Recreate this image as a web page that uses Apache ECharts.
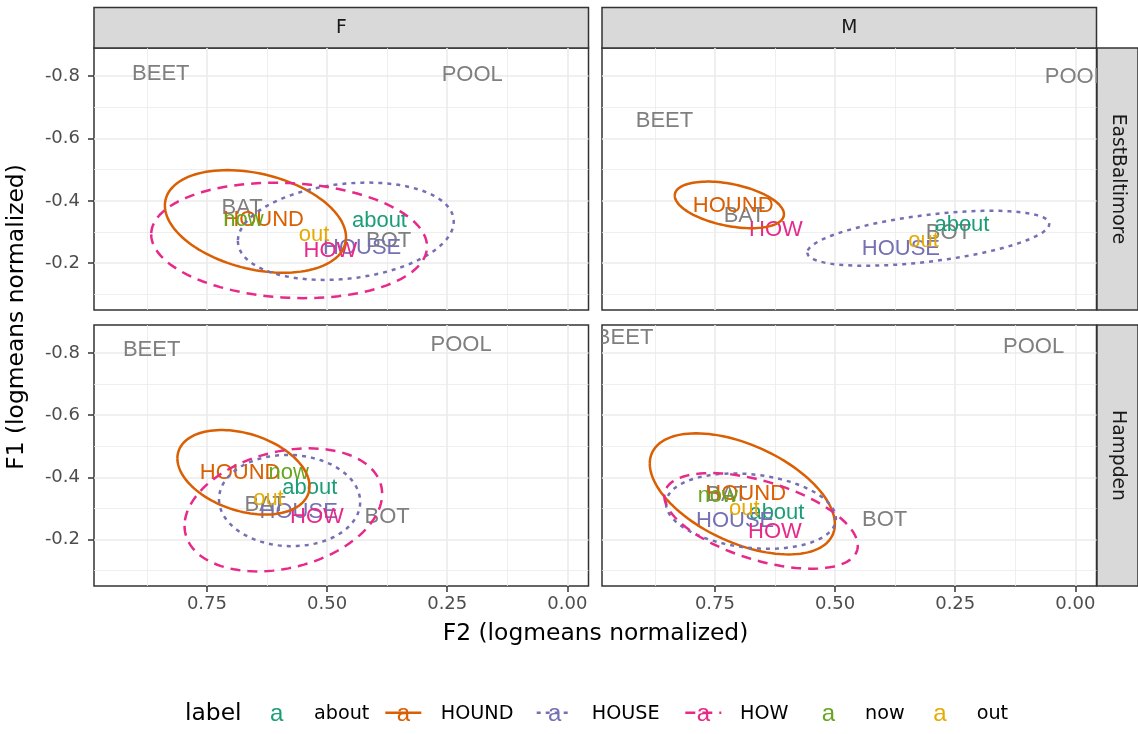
<!DOCTYPE html>
<html>
<head>
<meta charset="utf-8">
<script src="https://cdn.jsdelivr.net/npm/echarts@6/dist/echarts.min.js"></script>
<style>
  html, body { margin: 0; padding: 0; background: #fff; }
  #chart { width: 1138px; height: 734px; }
</style>
</head>
<body>
<div id="chart"></div>
<script>
// facets
var sexes = ['F', 'M'];
var dialects = ['EastBaltimore', 'Hampden'];

// legend labels and their colours / line types
var labels = ['about', 'HOUND', 'HOUSE', 'HOW', 'now', 'out'];
var labelColors = ['#1B9E77', '#D95F02', '#7570B3', '#E7298A', '#66A61E', '#E6AB02'];
var labelLines = [null, 'solid', 'dotted', 'dashed', null, null];
var vowelColor = '#7F7F7F';

// axis ticks
var xMajor = [0, 0.25, 0.5, 0.75];
var xMinor = [0.125, 0.375, 0.625, 0.875];
var yMajor = [-0.8, -0.6, -0.4, -0.2];
var yMinor = [-0.7, -0.5, -0.3, -0.1];
var xMin = -0.044, xMax = 0.985;
var yMin = -0.89, yMax = -0.05;

// word positions [word, F2, F1] per panel
var wordsFEast = [
    ['BEET', 0.846, -0.807], ['POOL', 0.198, -0.803], ['BAT', 0.677, -0.377], ['BOT', 0.372, -0.272],
    ['about', 0.391, -0.336], ['HOUND', 0.632, -0.339], ['HOUSE', 0.427, -0.248],
    ['HOW', 0.493, -0.240], ['now', 0.674, -0.339], ['out', 0.527, -0.291]
];
var wordsMEast = [
    ['BEET', 0.855, -0.657], ['POOL', 0.0, -0.798], ['BAT', 0.689, -0.352], ['BOT', 0.264, -0.298],
    ['about', 0.236, -0.323], ['HOUND', 0.712, -0.384], ['HOUSE', 0.363, -0.245],
    ['HOW', 0.623, -0.307], ['out', 0.316, -0.272]
];
var wordsFHamp = [
    ['BEET', 0.865, -0.809], ['POOL', 0.221, -0.825], ['BAT', 0.629, -0.312], ['BOT', 0.375, -0.273],
    ['about', 0.536, -0.367], ['HOUND', 0.681, -0.413], ['HOUSE', 0.559, -0.289],
    ['HOW', 0.521, -0.273], ['now', 0.580, -0.413], ['out', 0.622, -0.330]
];
var wordsMHamp = [
    ['BEET', 0.938, -0.848], ['POOL', 0.087, -0.821], ['BAT', 0.725, -0.343], ['BOT', 0.397, -0.263],
    ['about', 0.621, -0.284], ['HOUND', 0.686, -0.346], ['HOUSE', 0.708, -0.261],
    ['HOW', 0.625, -0.223], ['now', 0.744, -0.341], ['out', 0.689, -0.298]
];

// ellipses [label, centre F2, centre F1, half range F2, half range F1, correlation]
var ellFEast = [
    ['HOUND', 0.649, -0.334, 0.1885, 0.1645, -0.31],
    ['HOUSE', 0.461, -0.3025, 0.2246, 0.156, 0.2],
    ['HOW', 0.579, -0.273, 0.287, 0.185, -0.105]
];
var ellMEast = [
    ['HOUND', 0.720, -0.387, 0.1136, 0.0747, -0.4],
    ['HOUSE', 0.306, -0.280, 0.2517, 0.0881, 0.52]
];
var ellFHamp = [
    ['HOUND', 0.674, -0.416, 0.1375, 0.136, -0.33],
    ['HOUSE', 0.578, -0.325, 0.1469, 0.1468, -0.03],
    ['HOW', 0.591, -0.295, 0.2056, 0.198, 0.26]
];
var ellMHamp = [
    ['HOUND', 0.693, -0.3465, 0.1926, 0.1949, -0.5],
    ['HOUSE', 0.675, -0.291, 0.1768, 0.1212, -0.2],
    ['HOW', 0.654, -0.2596, 0.2013, 0.1538, -0.52]
];

var panelWords = [wordsFEast, wordsMEast, wordsFHamp, wordsMHamp];
var panelEllipses = [ellFEast, ellMEast, ellFHamp, ellMHamp];

// layout
var boxes = [
    {left: 94, top: 48, width: 494.5, height: 262},
    {left: 602, top: 48, width: 494.5, height: 262},
    {left: 94, top: 325, width: 494.5, height: 261},
    {left: 602, top: 325, width: 494.5, height: 261}
];
var legendKeyX = [276.7, 403.3, 554.7, 703.3, 828.3, 940];
var legendTextX = [314, 440.7, 591.7, 740, 865, 976.7];
var legendY = 714;

var themeFont = 'DejaVu Sans';
var textFont = 'Liberation Sans';

function colorOf(word){
    var i = labels.indexOf(word);
    return i < 0 ? vowelColor : labelColors[i];
}

function dashOf(type){
    if(type == 'dotted') return [4, 5];
    if(type == 'dashed') return [10, 7];
    return null;
}

var grids = [], xAxes = [], yAxes = [], series = [];

for(var g = 0; g < 4; g++){
    var b = boxes[g];
    var bottomRow = g >= 2, leftCol = g % 2 == 0;
    grids.push({
        left: b.left, top: b.top, width: b.width, height: b.height,
        show: true, backgroundColor: '#fff', borderColor: '#333', borderWidth: 1.5
    });
    // major
    xAxes.push({
        gridIndex: g, type: 'value', min: xMin, max: xMax, inverse: true, position: 'bottom',
        axisLine: { show: false, onZero: false },
        axisTick: { show: bottomRow, customValues: xMajor, length: 6, lineStyle: { color: '#333', width: 1.5 } },
        axisLabel: {
            show: bottomRow, customValues: xMajor, margin: 9,
            color: '#4D4D4D', fontSize: 18, fontFamily: themeFont,
            formatter: function (v) { return v.toFixed(2); }
        },
        splitLine: { show: true, lineStyle: { color: '#EBEBEB', width: 1.6 } }
    });
    // minor
    xAxes.push({
        gridIndex: g, type: 'value', min: xMin, max: xMax, inverse: true, position: 'top',
        axisLine: { show: false, onZero: false },
        axisTick: { show: false, customValues: xMinor },
        axisLabel: { show: false, customValues: xMinor },
        splitLine: { show: true, lineStyle: { color: '#EBEBEB', width: 0.8 } }
    });
    yAxes.push({
        gridIndex: g, type: 'value', min: yMin, max: yMax, inverse: true, position: 'left',
        axisLine: { show: false, onZero: false },
        axisTick: { show: leftCol, customValues: yMajor, length: 6, lineStyle: { color: '#333', width: 1.5 } },
        axisLabel: {
            show: leftCol, customValues: yMajor, margin: 14,
            color: '#4D4D4D', fontSize: 18, fontFamily: themeFont,
            formatter: function (v) { return v.toFixed(1); }
        },
        splitLine: { show: true, lineStyle: { color: '#EBEBEB', width: 1.6 } }
    });
    yAxes.push({
        gridIndex: g, type: 'value', min: yMin, max: yMax, inverse: true, position: 'right',
        axisLine: { show: false, onZero: false },
        axisTick: { show: false, customValues: yMinor },
        axisLabel: { show: false, customValues: yMinor },
        splitLine: { show: true, lineStyle: { color: '#EBEBEB', width: 0.8 } }
    });

    (function (words, ells) {
        series.push({
            type: 'custom',
            xAxisIndex: 2 * g, yAxisIndex: 2 * g,
            clip: true,
            encode: { x: 0, y: 1 },
            data: words.map(function (w) { return [w[1], w[2]]; }),
            renderItem: function (params, api) {
                var p = api.coord([api.value(0), api.value(1)]);
                var w = words[params.dataIndex][0];
                return {
                    type: 'text', x: p[0], y: p[1],
                    style: {
                        text: w, fill: colorOf(w), fontSize: 22, fontFamily: textFont,
                        align: 'center', verticalAlign: 'middle'
                    }
                };
            }
        });
        series.push({
            type: 'custom',
            xAxisIndex: 2 * g, yAxisIndex: 2 * g,
            clip: true,
            encode: { x: 0, y: 1 },
            data: ells.map(function (e) { return [e[1], e[2], e[3], e[4], e[5]]; }),
            renderItem: function (params, api) {
                var e = ells[params.dataIndex];
                var cx = api.value(0), cy = api.value(1), rx = api.value(2), ry = api.value(3);
                var d = Math.acos(api.value(4));
                var pts = [];
                for(var i = 0; i <= 120; i++){
                    var t = i / 120 * 2 * Math.PI;
                    pts.push(api.coord([cx + rx * Math.cos(t), cy + ry * Math.cos(t - d)]));
                }
                var li = labels.indexOf(e[0]);
                return {
                    type: 'polyline',
                    shape: { points: pts },
                    style: {
                        fill: null, stroke: labelColors[li], lineWidth: 2.5,
                        lineDash: dashOf(labelLines[li])
                    }
                };
            }
        });
    })(panelWords[g], panelEllipses[g]);
}

// strips, axis titles, legend
var graphics = [];
for(var s = 0; s < sexes.length; s++){
    var bx = boxes[s];
    graphics.push({
        type: 'rect', shape: { x: bx.left, y: 7.5, width: bx.width, height: 40.5 },
        style: { fill: '#D9D9D9', stroke: '#333', lineWidth: 1.5 }
    });
    graphics.push({
        type: 'text', x: bx.left + bx.width / 2, y: 28,
        style: { text: sexes[s], fill: '#1A1A1A', fontSize: 18.7, fontFamily: themeFont, align: 'center', verticalAlign: 'middle' }
    });
}
for(var r = 0; r < dialects.length; r++){
    var by = boxes[2 * r + 1];
    graphics.push({
        type: 'rect', shape: { x: 1097, y: by.top, width: 41, height: by.height },
        style: { fill: '#D9D9D9', stroke: '#333', lineWidth: 1.5 }
    });
    graphics.push({
        type: 'text', x: 1118, y: by.top + by.height / 2, rotation: -Math.PI / 2,
        style: { text: dialects[r], fill: '#1A1A1A', fontSize: 18.7, fontFamily: themeFont, align: 'center', verticalAlign: 'middle' }
    });
}
graphics.push({
    type: 'text', x: 595.5, y: 634,
    style: { text: 'F2 (logmeans normalized)', fill: '#000', fontSize: 23.4, fontFamily: themeFont, align: 'center', verticalAlign: 'middle' }
});
graphics.push({
    type: 'text', x: 17, y: 317, rotation: Math.PI / 2,
    style: { text: 'F1 (logmeans normalized)', fill: '#000', fontSize: 23.4, fontFamily: themeFont, align: 'center', verticalAlign: 'middle' }
});
graphics.push({
    type: 'text', x: 185, y: legendY,
    style: { text: 'label', fill: '#000', fontSize: 23.4, fontFamily: themeFont, align: 'left', verticalAlign: 'middle' }
});
for(var k = 0; k < labels.length; k++){
    if(labelLines[k]){
        graphics.push({
            type: 'line',
            shape: { x1: legendKeyX[k] - 18, y1: legendY - 1.3, x2: legendKeyX[k] + 18, y2: legendY - 1.3 },
            style: { stroke: labelColors[k], lineWidth: 2.5, lineDash: dashOf(labelLines[k]) }
        });
    }
    graphics.push({
        type: 'text', x: legendKeyX[k], y: legendY,
        style: { text: 'a', fill: labelColors[k], fontSize: 24, fontFamily: textFont, align: 'center', verticalAlign: 'middle' }
    });
    graphics.push({
        type: 'text', x: legendTextX[k], y: legendY,
        style: { text: labels[k], fill: '#000', fontSize: 19.2, fontFamily: themeFont, align: 'left', verticalAlign: 'middle' }
    });
}

var chart = echarts.init(document.getElementById('chart'));
chart.setOption({
    backgroundColor: '#fff',
    animation: false,
    grid: grids,
    xAxis: xAxes,
    yAxis: yAxes,
    series: series,
    graphic: { elements: graphics }
});
</script>
</body>
</html>
